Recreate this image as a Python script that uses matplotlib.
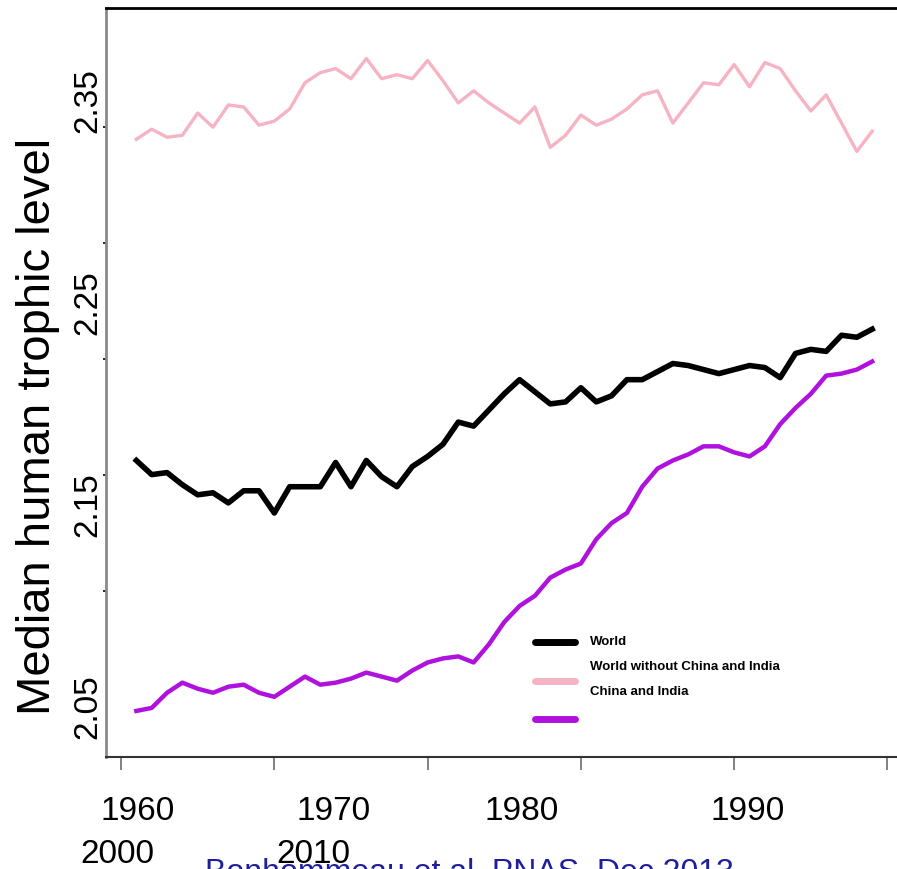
import matplotlib
matplotlib.use("Agg")
import matplotlib.pyplot as plt
import numpy as np

plt.rcParams['font.family'] = ['Liberation Sans', 'DejaVu Sans']

# median human trophic level, 1961-2009
years = list(range(1961, 2010))

world = [2.172, 2.165, 2.166, 2.160, 2.155, 2.156, 2.151, 2.157, 2.157, 2.146,
         2.159, 2.159, 2.159, 2.171, 2.159, 2.172, 2.164, 2.159, 2.169, 2.174,
         2.180, 2.191, 2.189, 2.197, 2.205, 2.212, 2.206, 2.200, 2.201, 2.208,
         2.201, 2.204, 2.212, 2.212, 2.216, 2.220, 2.219, 2.217, 2.215, 2.217,
         2.219, 2.218, 2.213, 2.225, 2.227, 2.226, 2.234, 2.233, 2.237]

world_wo = [2.331, 2.336, 2.332, 2.333, 2.344, 2.337, 2.348, 2.347, 2.338, 2.340,
            2.346, 2.359, 2.364, 2.366, 2.361, 2.371, 2.361, 2.363, 2.361, 2.370,
            2.360, 2.349, 2.355, 2.349, 2.344, 2.339, 2.347, 2.327, 2.333, 2.343,
            2.338, 2.341, 2.346, 2.353, 2.355, 2.339, 2.349, 2.359, 2.358, 2.368,
            2.357, 2.369, 2.366, 2.355, 2.345, 2.353, 2.339, 2.325, 2.335]

china_india = [2.048, 2.0495, 2.057, 2.062, 2.059, 2.057, 2.060, 2.061, 2.057, 2.055,
               2.060, 2.065, 2.061, 2.062, 2.064, 2.067, 2.065, 2.063, 2.068, 2.072,
               2.074, 2.075, 2.072, 2.081, 2.092, 2.100, 2.105, 2.114, 2.118, 2.121,
               2.133, 2.141, 2.146, 2.159, 2.168, 2.172, 2.175, 2.179, 2.179, 2.176,
               2.174, 2.179, 2.190, 2.198, 2.205, 2.214, 2.215, 2.217, 2.221]

series_names = ["World", "World without China and India", "China and India"]
colors = ["black", "#F5B3C3", "#B012DD"]

ytick_vals = [2.05, 2.15, 2.25, 2.35]
ytick_text = ["2.05", "2.15", "2.25", "2.35"]

# the year labels sit off their ticks in the original picture (two rows)
xlab_row1 = ["1960", "1970", "1980", "1990"]
xlab_row1_px = [138, 334, 522, 748]
xlab_row2 = ["2000", "2010"]
xlab_row2_px = [117, 313]

W, H = 897, 869
fig = plt.figure(figsize=(W / 100, H / 100), dpi=100)
ax = fig.add_axes([106 / W, (H - 757) / H, 1 - 106 / W, (757 - 8) / H])

ax.plot(years, world_wo, color=colors[1], lw=2.4, solid_joinstyle='round')
ax.plot(years, world, color=colors[0], lw=4, solid_joinstyle='round')
ax.plot(years, china_india, color=colors[2], lw=3.2, solid_joinstyle='round')

ax.set_xlim(1959.02, 2010.62)
ax.set_ylim(2.0252, 2.396)

ax.spines['right'].set_visible(False)
ax.spines['left'].set_color('#8a8a8a')
ax.spines['left'].set_linewidth(2)
ax.spines['top'].set_linewidth(2)
ax.spines['bottom'].set_color('#333333')
ax.spines['bottom'].set_linewidth(1.5)

ax.set_xticks(range(1960, 2011, 10))
ax.set_xticklabels([])
ax.tick_params(axis='x', direction='out', length=9.5, width=1.3, color='#777777')

ax.set_yticks(ytick_vals)
ax.set_yticklabels(ytick_text, rotation=90, va='center', fontsize=24)
ax.tick_params(axis='y', which='major', length=0, pad=2)
ax.set_yticks(np.linspace(2.05, 2.337, 6), minor=True)
ax.tick_params(axis='y', which='minor', direction='out', length=2.5, width=1.2, color='black')

for t, px in zip(xlab_row1, xlab_row1_px):
    fig.text(px / W, (H - 820) / H, t, ha='center', va='baseline', fontsize=24)
for t, px in zip(xlab_row2, xlab_row2_px):
    fig.text(px / W, (H - 863) / H, t, ha='center', va='baseline', fontsize=24)

fig.text(38 / W, (H - 426) / H, "Median human trophic level", rotation=90,
         ha='center', va='center', fontsize=34)

# hand-drawn legend, lines and texts are offset like in the picture
leg_line_y = [642, 681, 719]
leg_text_y = [642, 667, 692]
for name, c, ly, ty in zip(series_names, colors, leg_line_y, leg_text_y):
    fig.add_artist(plt.Line2D([535 / W, 575 / W], [(H - ly) / H, (H - ly) / H],
                              color=c, lw=5, solid_capstyle='round'))
    fig.text(590 / W, (H - ty) / H, name, ha='left', va='center',
             fontsize=9.5, fontweight='bold')

# source line, cut off by the bottom edge
fig.text(205 / W, (H - 881) / H, "Bonhommeau et al. PNAS, Dec 2013",
         ha='left', va='baseline', fontsize=23, color='#1f1f99')

fig.savefig("out.png", dpi=100)
